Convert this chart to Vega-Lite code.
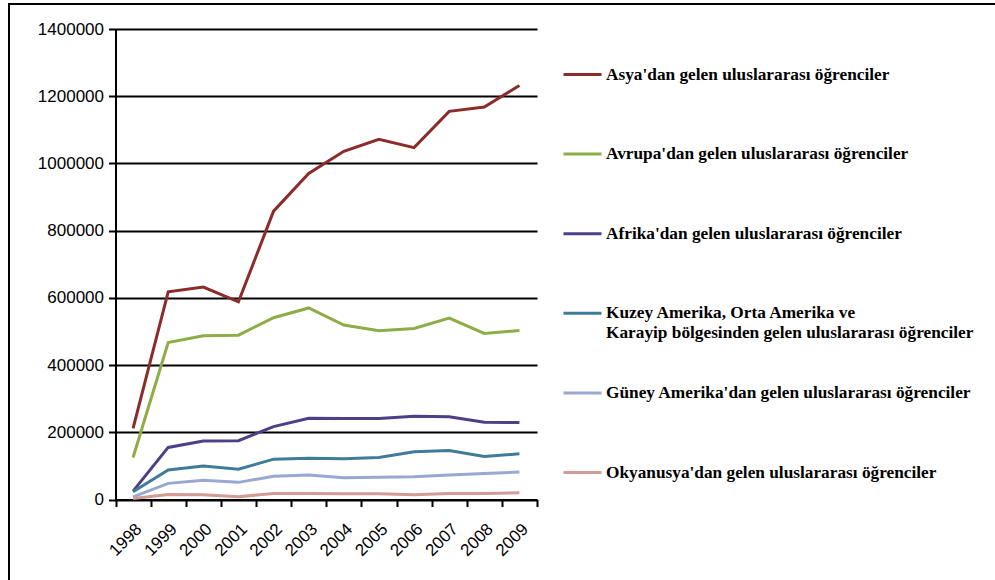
{
  "$schema": "https://vega.github.io/schema/vega-lite/v6.json",
  "width": 992,
  "height": 582,
  "autosize": "none",
  "padding": {"left": 9, "top": 4, "right": -6, "bottom": -6},
  "background": "white",
  "config": {
    "view": {"stroke": "black", "strokeWidth": 2},
    "axis": {"labelFont": "Liberation Sans", "labelColor": "black", "labelFontSize": 17, "domainColor": "black", "tickColor": "black", "gridColor": "black", "domainWidth": 2, "tickWidth": 2, "gridWidth": 2, "gridOpacity": 1, "tickSize": 7}
  },
  "data": {
    "values": [
      {"year": "1998", "region": "Asya'dan gelen uluslararası öğrenciler", "value": 212000},
      {"year": "1999", "region": "Asya'dan gelen uluslararası öğrenciler", "value": 618000},
      {"year": "2000", "region": "Asya'dan gelen uluslararası öğrenciler", "value": 632000},
      {"year": "2001", "region": "Asya'dan gelen uluslararası öğrenciler", "value": 588000},
      {"year": "2002", "region": "Asya'dan gelen uluslararası öğrenciler", "value": 858000},
      {"year": "2003", "region": "Asya'dan gelen uluslararası öğrenciler", "value": 970000},
      {"year": "2004", "region": "Asya'dan gelen uluslararası öğrenciler", "value": 1036000},
      {"year": "2005", "region": "Asya'dan gelen uluslararası öğrenciler", "value": 1072000},
      {"year": "2006", "region": "Asya'dan gelen uluslararası öğrenciler", "value": 1047000},
      {"year": "2007", "region": "Asya'dan gelen uluslararası öğrenciler", "value": 1155000},
      {"year": "2008", "region": "Asya'dan gelen uluslararası öğrenciler", "value": 1168000},
      {"year": "2009", "region": "Asya'dan gelen uluslararası öğrenciler", "value": 1232000},
      {"year": "1998", "region": "Avrupa'dan gelen uluslararası öğrenciler", "value": 125000},
      {"year": "1999", "region": "Avrupa'dan gelen uluslararası öğrenciler", "value": 467000},
      {"year": "2000", "region": "Avrupa'dan gelen uluslararası öğrenciler", "value": 487000},
      {"year": "2001", "region": "Avrupa'dan gelen uluslararası öğrenciler", "value": 489000},
      {"year": "2002", "region": "Avrupa'dan gelen uluslararası öğrenciler", "value": 541000},
      {"year": "2003", "region": "Avrupa'dan gelen uluslararası öğrenciler", "value": 570000},
      {"year": "2004", "region": "Avrupa'dan gelen uluslararası öğrenciler", "value": 519000},
      {"year": "2005", "region": "Avrupa'dan gelen uluslararası öğrenciler", "value": 502000},
      {"year": "2006", "region": "Avrupa'dan gelen uluslararası öğrenciler", "value": 509000},
      {"year": "2007", "region": "Avrupa'dan gelen uluslararası öğrenciler", "value": 540000},
      {"year": "2008", "region": "Avrupa'dan gelen uluslararası öğrenciler", "value": 494000},
      {"year": "2009", "region": "Avrupa'dan gelen uluslararası öğrenciler", "value": 503000},
      {"year": "1998", "region": "Afrika'dan gelen uluslararası öğrenciler", "value": 25000},
      {"year": "1999", "region": "Afrika'dan gelen uluslararası öğrenciler", "value": 155000},
      {"year": "2000", "region": "Afrika'dan gelen uluslararası öğrenciler", "value": 174000},
      {"year": "2001", "region": "Afrika'dan gelen uluslararası öğrenciler", "value": 175000},
      {"year": "2002", "region": "Afrika'dan gelen uluslararası öğrenciler", "value": 217000},
      {"year": "2003", "region": "Afrika'dan gelen uluslararası öğrenciler", "value": 242000},
      {"year": "2004", "region": "Afrika'dan gelen uluslararası öğrenciler", "value": 241000},
      {"year": "2005", "region": "Afrika'dan gelen uluslararası öğrenciler", "value": 241000},
      {"year": "2006", "region": "Afrika'dan gelen uluslararası öğrenciler", "value": 248000},
      {"year": "2007", "region": "Afrika'dan gelen uluslararası öğrenciler", "value": 246000},
      {"year": "2008", "region": "Afrika'dan gelen uluslararası öğrenciler", "value": 230000},
      {"year": "2009", "region": "Afrika'dan gelen uluslararası öğrenciler", "value": 229000},
      {"year": "1998", "region": "Kuzey Amerika, Orta Amerika ve|Karayip bölgesinden gelen uluslararası öğrenciler", "value": 23000},
      {"year": "1999", "region": "Kuzey Amerika, Orta Amerika ve|Karayip bölgesinden gelen uluslararası öğrenciler", "value": 88000},
      {"year": "2000", "region": "Kuzey Amerika, Orta Amerika ve|Karayip bölgesinden gelen uluslararası öğrenciler", "value": 100000},
      {"year": "2001", "region": "Kuzey Amerika, Orta Amerika ve|Karayip bölgesinden gelen uluslararası öğrenciler", "value": 90000},
      {"year": "2002", "region": "Kuzey Amerika, Orta Amerika ve|Karayip bölgesinden gelen uluslararası öğrenciler", "value": 120000},
      {"year": "2003", "region": "Kuzey Amerika, Orta Amerika ve|Karayip bölgesinden gelen uluslararası öğrenciler", "value": 123000},
      {"year": "2004", "region": "Kuzey Amerika, Orta Amerika ve|Karayip bölgesinden gelen uluslararası öğrenciler", "value": 121000},
      {"year": "2005", "region": "Kuzey Amerika, Orta Amerika ve|Karayip bölgesinden gelen uluslararası öğrenciler", "value": 125000},
      {"year": "2006", "region": "Kuzey Amerika, Orta Amerika ve|Karayip bölgesinden gelen uluslararası öğrenciler", "value": 142000},
      {"year": "2007", "region": "Kuzey Amerika, Orta Amerika ve|Karayip bölgesinden gelen uluslararası öğrenciler", "value": 146000},
      {"year": "2008", "region": "Kuzey Amerika, Orta Amerika ve|Karayip bölgesinden gelen uluslararası öğrenciler", "value": 128000},
      {"year": "2009", "region": "Kuzey Amerika, Orta Amerika ve|Karayip bölgesinden gelen uluslararası öğrenciler", "value": 136000},
      {"year": "1998", "region": "Güney Amerika'dan gelen uluslararası öğrenciler", "value": 8000},
      {"year": "1999", "region": "Güney Amerika'dan gelen uluslararası öğrenciler", "value": 48000},
      {"year": "2000", "region": "Güney Amerika'dan gelen uluslararası öğrenciler", "value": 57000},
      {"year": "2001", "region": "Güney Amerika'dan gelen uluslararası öğrenciler", "value": 51000},
      {"year": "2002", "region": "Güney Amerika'dan gelen uluslararası öğrenciler", "value": 69000},
      {"year": "2003", "region": "Güney Amerika'dan gelen uluslararası öğrenciler", "value": 73000},
      {"year": "2004", "region": "Güney Amerika'dan gelen uluslararası öğrenciler", "value": 65000},
      {"year": "2005", "region": "Güney Amerika'dan gelen uluslararası öğrenciler", "value": 66000},
      {"year": "2006", "region": "Güney Amerika'dan gelen uluslararası öğrenciler", "value": 68000},
      {"year": "2007", "region": "Güney Amerika'dan gelen uluslararası öğrenciler", "value": 73000},
      {"year": "2008", "region": "Güney Amerika'dan gelen uluslararası öğrenciler", "value": 77000},
      {"year": "2009", "region": "Güney Amerika'dan gelen uluslararası öğrenciler", "value": 82000},
      {"year": "1998", "region": "Okyanusya'dan gelen uluslararası öğrenciler", "value": 3000},
      {"year": "1999", "region": "Okyanusya'dan gelen uluslararası öğrenciler", "value": 15000},
      {"year": "2000", "region": "Okyanusya'dan gelen uluslararası öğrenciler", "value": 14000},
      {"year": "2001", "region": "Okyanusya'dan gelen uluslararası öğrenciler", "value": 8000},
      {"year": "2002", "region": "Okyanusya'dan gelen uluslararası öğrenciler", "value": 18000},
      {"year": "2003", "region": "Okyanusya'dan gelen uluslararası öğrenciler", "value": 18000},
      {"year": "2004", "region": "Okyanusya'dan gelen uluslararası öğrenciler", "value": 17000},
      {"year": "2005", "region": "Okyanusya'dan gelen uluslararası öğrenciler", "value": 17000},
      {"year": "2006", "region": "Okyanusya'dan gelen uluslararası öğrenciler", "value": 14000},
      {"year": "2007", "region": "Okyanusya'dan gelen uluslararası öğrenciler", "value": 18000},
      {"year": "2008", "region": "Okyanusya'dan gelen uluslararası öğrenciler", "value": 18000},
      {"year": "2009", "region": "Okyanusya'dan gelen uluslararası öğrenciler", "value": 20000}
    ]
  },
  "mark": {"type": "line", "strokeWidth": 3},
  "encoding": {
    "x": {
      "field": "year", "type": "ordinal",
      "scale": {"type": "band", "range": [106.5, 528], "paddingInner": 0, "paddingOuter": 0},
      "axis": {"title": null, "offset": -86.5, "tickBand": "extent", "labelAngle": -45, "labelAlign": "right", "labelBaseline": "top", "labelPadding": 14, "grid": false}
    },
    "y": {
      "field": "value", "type": "quantitative",
      "scale": {"domain": [0, 1400000], "range": [495.5, 25], "nice": false},
      "axis": {"title": null, "offset": -106.5, "values": [0, 200000, 400000, 600000, 800000, 1000000, 1200000, 1400000], "format": "d", "grid": true, "labelPadding": 5}
    },
    "color": {
      "field": "region", "type": "nominal",
      "scale": {
        "domain": ["Asya'dan gelen uluslararası öğrenciler", "Avrupa'dan gelen uluslararası öğrenciler", "Afrika'dan gelen uluslararası öğrenciler", "Kuzey Amerika, Orta Amerika ve|Karayip bölgesinden gelen uluslararası öğrenciler", "Güney Amerika'dan gelen uluslararası öğrenciler", "Okyanusya'dan gelen uluslararası öğrenciler"],
        "range": ["#8B2B2A", "#8DAD47", "#4E3F86", "#3E7C98", "#98A8D0", "#D49A95"]
      },
      "legend": {
        "title": null, "orient": "none", "legendX": 553, "legendY": 50, "padding": 0,
        "symbolType": "M-1,-1.6M-1,1.6M-1,0H1", "symbolSize": 1444, "symbolStrokeWidth": 3,
        "labelFont": "Liberation Serif", "labelFontWeight": "bold", "labelFontSize": 17.3, "labelColor": "black",
        "labelOffset": 3, "labelLimit": 500, "rowPadding": 6.6,
        "labelExpr": "split(datum.label, '|')",
        "encode": {"labels": {"update": {"lineHeight": {"value": 20}}}}
      }
    }
  }
}
